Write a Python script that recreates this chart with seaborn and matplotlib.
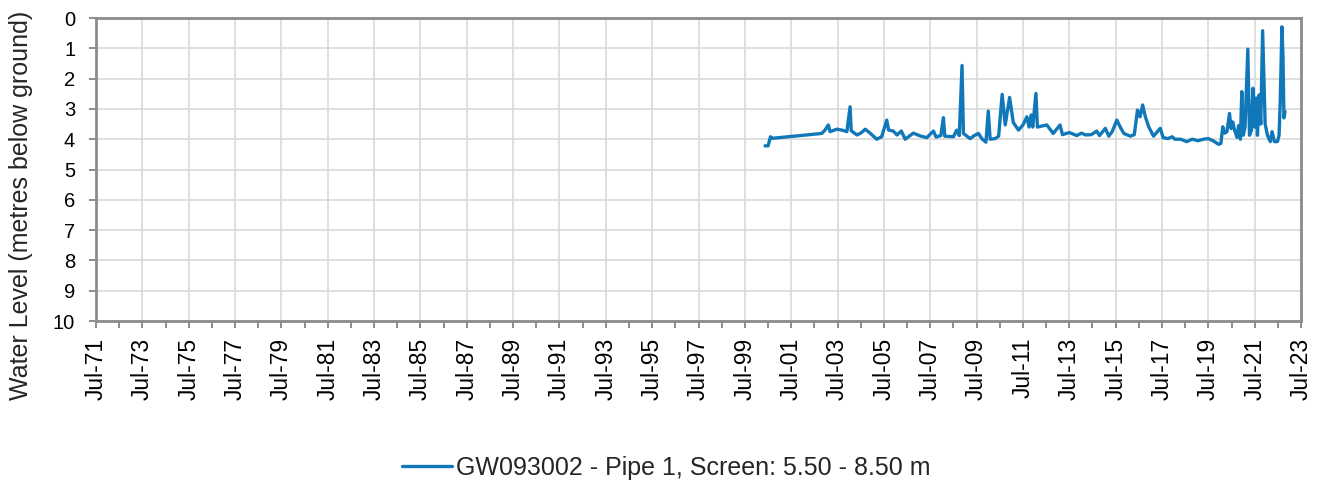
import matplotlib
matplotlib.use("Agg")
import matplotlib.pyplot as plt
import matplotlib.dates as mdates
import pandas as pd
import seaborn as sns

series_name = "GW093002 - Pipe 1, Screen: 5.50 - 8.50 m"
y_label = "Water Level (metres below ground)"

dates = [
    "2000-05-15", "2000-07-01", "2000-08-08", "2000-09-10", "2002-10-25", "2002-12-15",
    "2003-02-05", "2003-03-05", "2003-06-20", "2003-09-10", "2003-11-25", "2004-01-15",
    "2004-02-01", "2004-05-01", "2004-07-01", "2004-09-10", "2004-11-25", "2005-03-10",
    "2005-05-25", "2005-08-15", "2005-09-12", "2005-11-25", "2006-01-22", "2006-04-01",
    "2006-06-01", "2006-10-08", "2007-01-22", "2007-05-08", "2007-08-20", "2007-10-01",
    "2007-12-15", "2008-01-25", "2008-02-15", "2008-07-01", "2008-08-20", "2008-10-01",
    "2008-11-13", "2008-12-05", "2009-01-18", "2009-03-20", "2009-05-25", "2009-07-30",
    "2009-09-20", "2009-11-25", "2010-01-01", "2010-01-30", "2010-04-20", "2010-06-13",
    "2010-08-08", "2010-09-25", "2010-12-03", "2011-01-30", "2011-04-23", "2011-07-01",
    "2011-09-01", "2011-10-05", "2011-11-07", "2011-12-03", "2012-01-22", "2012-02-14",
    "2012-07-12", "2012-10-20", "2013-02-05", "2013-03-15", "2013-07-01", "2013-10-27",
    "2014-01-10", "2014-03-15", "2014-06-13", "2014-09-05", "2014-10-20", "2015-01-20",
    "2015-03-15", "2015-05-08", "2015-07-20", "2015-09-12", "2015-11-07", "2016-02-18",
    "2016-04-20", "2016-06-10", "2016-07-20", "2016-08-30", "2016-10-12", "2016-12-05",
    "2017-02-18", "2017-06-03", "2017-07-20", "2017-10-01", "2017-12-10", "2018-01-20",
    "2018-04-20", "2018-07-27", "2018-10-20", "2019-01-20", "2019-04-16", "2019-07-01",
    "2019-09-13", "2019-12-10", "2020-01-15", "2020-02-14", "2020-03-15", "2020-04-20",
    "2020-05-30", "2020-06-25", "2020-07-20", "2020-08-18", "2020-09-25", "2020-10-20",
    "2020-11-18", "2020-12-10", "2021-01-01", "2021-01-30", "2021-03-15", "2021-04-10",
    "2021-05-12", "2021-06-03", "2021-07-01", "2021-07-23", "2021-08-14", "2021-09-10",
    "2021-10-05", "2021-11-03", "2021-12-13", "2022-01-18", "2022-03-04", "2022-04-01",
    "2022-05-08", "2022-06-25", "2022-07-20", "2022-08-08", "2022-09-03", "2022-09-20",
    "2022-10-05", "2022-10-23",
]
levels = [
    4.22, 4.22, 3.92, 3.97, 3.81, 3.70,
    3.53, 3.75, 3.67, 3.70, 3.75, 2.93,
    3.72, 3.86, 3.80, 3.67, 3.80, 4.00,
    3.92, 3.37, 3.70, 3.73, 3.86, 3.73,
    4.00, 3.80, 3.89, 3.95, 3.73, 3.93,
    3.88, 3.29, 3.90, 3.92, 3.70, 3.88,
    1.57, 3.81, 3.88, 3.98, 3.88, 3.81,
    3.98, 4.10, 3.07, 4.00, 3.98, 3.90,
    2.52, 3.53, 2.62, 3.45, 3.70, 3.53,
    3.26, 3.60, 3.20, 3.60, 2.49, 3.60,
    3.53, 3.81, 3.53, 3.85, 3.78, 3.88,
    3.80, 3.86, 3.85, 3.73, 3.88, 3.64,
    3.90, 3.75, 3.37, 3.60, 3.81, 3.90,
    3.85, 3.04, 3.26, 2.87, 3.26, 3.60,
    3.90, 3.64, 3.95, 3.98, 3.92, 4.00,
    4.00, 4.08, 4.00, 4.05, 4.00, 3.98,
    4.05, 4.17, 4.14, 3.59, 3.80, 3.75,
    3.15, 3.65, 3.43, 3.70, 3.94, 3.55,
    4.00, 2.43, 3.87, 3.60, 1.03, 3.87,
    3.70, 2.32, 3.60, 2.64, 3.87, 2.54,
    3.50, 0.42, 3.50, 3.87, 4.08, 3.75,
    4.08, 4.08, 3.87, 2.76, 0.29, 1.26,
    3.30, 3.09,
]

x_start = "1971-07-01"
x_end = "2023-07-01"
y_ticks = list(range(0, 11))

df = pd.DataFrame({"date": pd.to_datetime(dates), "level": levels, "series": series_name})

sns.set_style("whitegrid")
plt.rcParams["font.family"] = ["Liberation Sans", "DejaVu Sans"]

fig = plt.figure(figsize=(13.24, 4.9), dpi=100)
ax = fig.add_axes([96 / 1324, 1 - 321 / 490, (1301 - 96) / 1324, (321 - 18) / 490])

line_color = "#1078B8"
sns.lineplot(data=df, x="date", y="level", hue="series", palette=[line_color],
             linewidth=2.4, ax=ax, legend=True, estimator=None, sort=True)

ax.set_xlim(pd.Timestamp(x_start), pd.Timestamp(x_end))
ax.set_ylim(10, 0)
ax.set_yticks(y_ticks)
ax.set_yticklabels([str(v) for v in y_ticks], fontsize=14.5)

ax.xaxis.set_major_locator(mdates.MonthLocator(bymonth=7, bymonthday=1, interval=24))
ax.xaxis.set_minor_locator(mdates.MonthLocator(bymonth=7, bymonthday=1))
ax.xaxis.set_major_formatter(mdates.DateFormatter("%b-%y"))
for lab in ax.get_xticklabels():
    lab.set_rotation(90)
    lab.set_fontsize(16.5)

ax.set_xlabel("")
ax.set_ylabel(y_label, fontsize=18)
ax.yaxis.set_label_coords((33 - 96) / 1205, (321 - 205) / 303)

ax.grid(True, which="major", color="#d9d9d9", linewidth=1.2)
ax.grid(False, which="minor")
for sp in ax.spines.values():
    sp.set_visible(True)
    sp.set_color("#8c8c8c")
    sp.set_linewidth(2.0)
ax.tick_params(axis="x", which="major", direction="out", length=5, width=1.4,
               color="#8c8c8c", bottom=True, pad=7, labelcolor="black")
ax.tick_params(axis="x", which="minor", direction="out", length=5, width=1.4,
               color="#8c8c8c", bottom=True)
ax.tick_params(axis="y", which="major", direction="out", length=5, width=1.4,
               color="#8c8c8c", left=True, pad=10, labelcolor="black")

handles, labels = ax.get_legend_handles_labels()
ax.get_legend().remove()
fig.legend(handles, labels, loc="center", bbox_to_anchor=(0.503, 0.045), frameon=False,
           fontsize=18, handlelength=2.0, handletextpad=0.15)

fig.savefig("out.png", dpi=100)
